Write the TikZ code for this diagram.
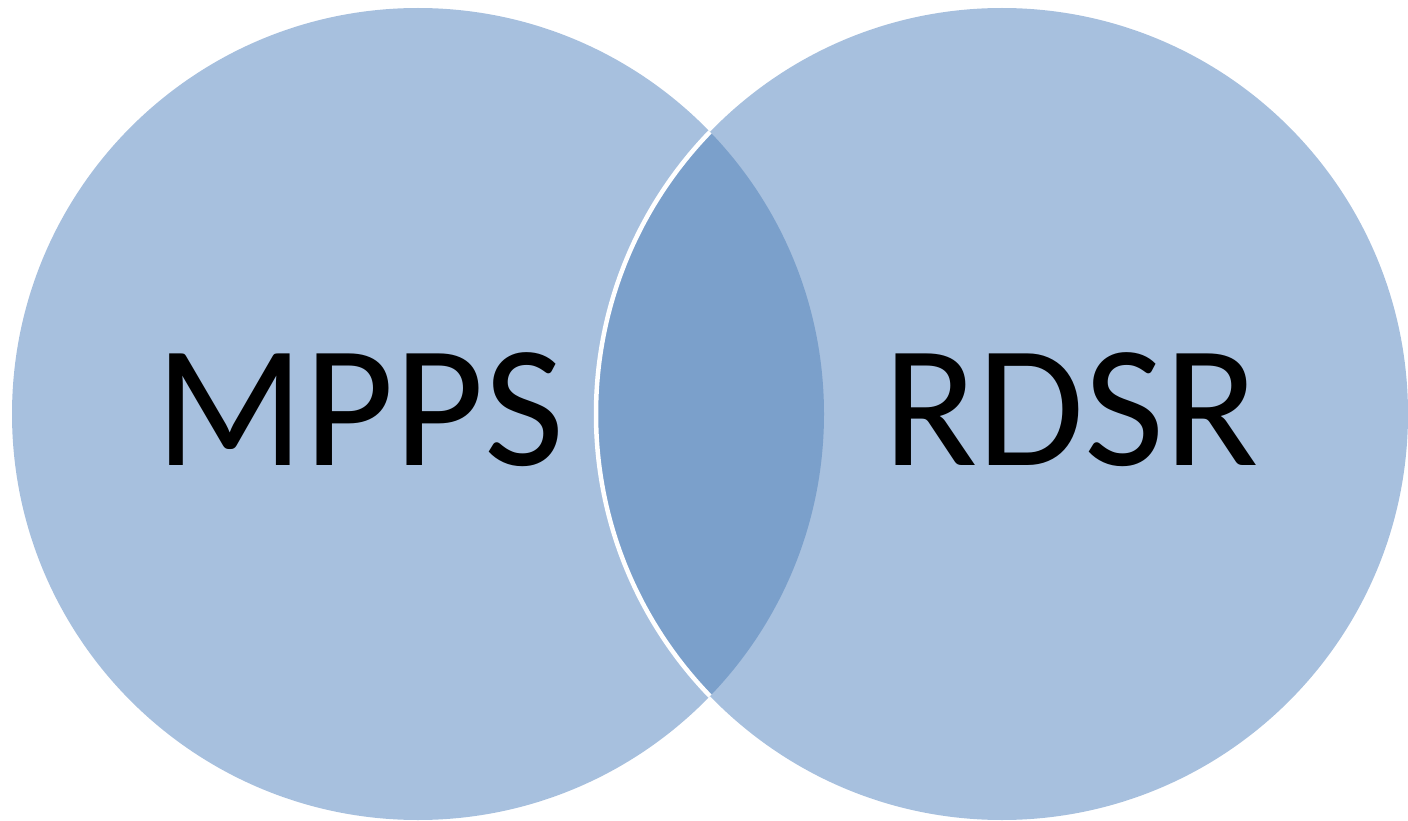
\documentclass[tikz,border=0pt]{standalone}
\usepackage{fontspec}
\setmainfont{Carlito}
\definecolor{lightblue}{RGB}{167,192,222}
\definecolor{darkblue}{RGB}{123,160,203}
\begin{document}
\begin{tikzpicture}[x=1pt,y=-1pt,
  label text/.style={inner sep=0pt,anchor=base,font=\fontsize{174}{200}\selectfont,text=black}]
\useasboundingbox (0,0) rectangle (1408,821);
\clip (0,0) rectangle (1408,821);
\coordinate (cl) at (418,414);
\coordinate (cr) at (1002,414);
\fill[lightblue] (cl) circle[radius=406pt];
\fill[lightblue] (cr) circle[radius=406pt];
\begin{scope}
  \clip (cl) circle[radius=406pt];
  \fill[darkblue] (cr) circle[radius=406pt];
  \draw[white,line width=4.5pt] (cr) circle[radius=406pt];
\end{scope}
\node[label text] (mpps) at (360,465) {MPPS};
\node[label text] (rdsr) at (1071,465) {RDSR};
\end{tikzpicture}
\end{document}
